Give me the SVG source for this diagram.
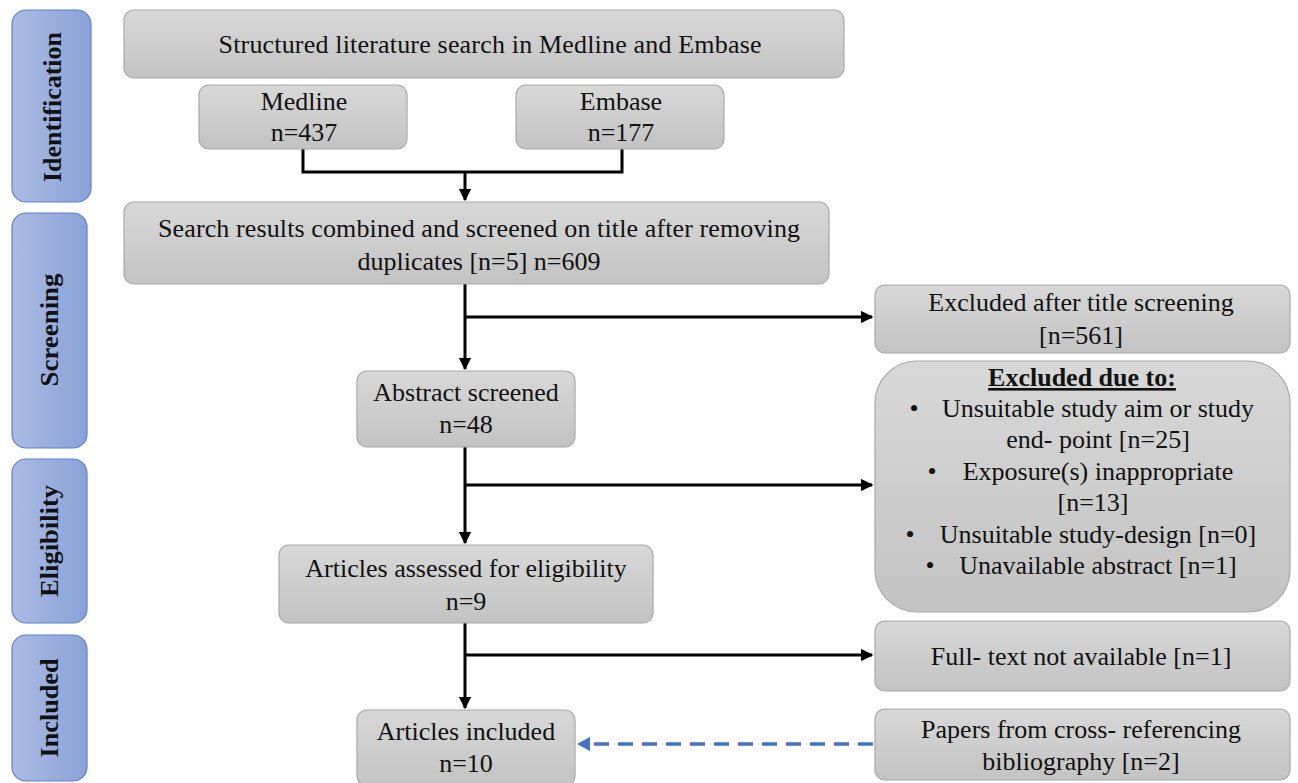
<svg xmlns="http://www.w3.org/2000/svg" width="1298" height="783" viewBox="0 0 1298 783">
<defs>
<linearGradient id="gray" x1="0" y1="0" x2="0" y2="1">
<stop offset="0" stop-color="#d8d8d8"/><stop offset="1" stop-color="#c3c3c3"/>
</linearGradient>
<linearGradient id="blue" x1="0" y1="0" x2="1" y2="0">
<stop offset="0" stop-color="#abbbe3"/><stop offset="1" stop-color="#8aa2d8"/>
</linearGradient>
<marker id="ah" viewBox="0 0 10 10" refX="9" refY="5" markerWidth="4.2" markerHeight="4.2" orient="auto" markerUnits="strokeWidth">
<path d="M0,0 L10,5 L0,10 z" fill="#000"/>
</marker>
</defs>
<style>
.box{fill:url(#gray);stroke:#a8a8a8;stroke-width:1.2}
.side{fill:url(#blue);stroke:#5b80cf;stroke-width:1.2}
.t{font-family:'Liberation Serif','Times New Roman','DejaVu Serif',serif;font-size:26px;fill:#111;text-anchor:middle}
.lab{font-family:'Liberation Serif','Times New Roman',serif;font-weight:bold;font-size:26px;fill:#111;text-anchor:middle}
.ln{fill:none;stroke:#000;stroke-width:3}
</style>
<rect width="1298" height="783" fill="#fff"/>

<g id="side-identification"><rect class="side" x="12" y="10" width="79" height="192" rx="14"/><text class="lab" transform="translate(61,107) rotate(-90)" textLength="150" lengthAdjust="spacingAndGlyphs">Identification</text></g>
<g id="side-screening"><rect class="side" x="12" y="213" width="75" height="235" rx="14"/><text class="lab" transform="translate(58,330) rotate(-90)" textLength="113" lengthAdjust="spacingAndGlyphs">Screening</text></g>
<g id="side-eligibility"><rect class="side" x="12" y="459" width="75" height="164" rx="14"/><text class="lab" transform="translate(58,541) rotate(-90)" textLength="112" lengthAdjust="spacingAndGlyphs">Eligibility</text></g>
<g id="side-included"><rect class="side" x="12" y="635" width="75" height="146" rx="14"/><text class="lab" transform="translate(58,708) rotate(-90)" textLength="99" lengthAdjust="spacingAndGlyphs">Included</text></g>

<g id="connectors">
<path class="ln" d="M303,149 V172 H622 V149"/>
<path class="ln" d="M465,172 V200" marker-end="url(#ah)"/>
<path class="ln" d="M465,284 V369" marker-end="url(#ah)"/>
<path class="ln" d="M465,317 H872" marker-end="url(#ah)"/>
<path class="ln" d="M465,447 V543" marker-end="url(#ah)"/>
<path class="ln" d="M465,485 H872" marker-end="url(#ah)"/>
<path class="ln" d="M465,623 V708" marker-end="url(#ah)"/>
<path class="ln" d="M465,655 H872" marker-end="url(#ah)"/>
<path d="M873,744 H588" fill="none" stroke="#4472c4" stroke-width="3.5" stroke-dasharray="15,9"/>
<path d="M577,744 L590,737 L590,751 z" fill="#4472c4"/>
</g>

<g id="n-search"><rect class="box" x="124" y="10" width="720" height="68" rx="10"/><text class="t" x="490" y="53" textLength="543">Structured literature search in Medline and Embase</text></g>
<g id="n-medline"><rect class="box" x="199" y="85" width="208" height="64" rx="10"/><text class="t" x="304" y="110">Medline</text><text class="t" x="304" y="141">n=437</text></g>
<g id="n-embase"><rect class="box" x="516" y="85" width="208" height="64" rx="10"/><text class="t" x="621" y="110">Embase</text><text class="t" x="621" y="141">n=177</text></g>
<g id="n-combined"><rect class="box" x="124" y="202" width="705" height="82" rx="10"/><text class="t" x="479" y="237" textLength="642">Search results combined and screened on title after removing</text><text class="t" x="479" y="270">duplicates [n=5] n=609</text></g>
<g id="n-excl-title"><rect class="box" x="875" y="285" width="415" height="68" rx="10"/><text class="t" x="1081" y="311">Excluded after title screening</text><text class="t" x="1081" y="344">[n=561]</text></g>
<g id="n-abstract"><rect class="box" x="357" y="371" width="218" height="76" rx="10"/><text class="t" x="466" y="401">Abstract screened</text><text class="t" x="466" y="433">n=48</text></g>
<g id="n-excl-due"><rect class="box" x="875" y="361" width="415" height="251" rx="42"/>
<text class="t" x="1082" y="386" font-weight="bold" text-decoration="underline">Excluded due to:</text>
<text class="t" x="914" y="417">•</text><text class="t" x="1098" y="417">Unsuitable study aim or study</text>
<text class="t" x="1098" y="448">end- point [n=25]</text>
<text class="t" x="932" y="480">•</text><text class="t" x="1098" y="480">Exposure(s) inappropriate</text>
<text class="t" x="1093" y="511">[n=13]</text>
<text class="t" x="910" y="543">•</text><text class="t" x="1098" y="543">Unsuitable study-design [n=0]</text>
<text class="t" x="930" y="574">•</text><text class="t" x="1098" y="574">Unavailable abstract [n=1]</text>
</g>
<g id="n-assessed"><rect class="box" x="279" y="545" width="374" height="78" rx="10"/><text class="t" x="466" y="577">Articles assessed for eligibility</text><text class="t" x="466" y="610">n=9</text></g>
<g id="n-fulltext"><rect class="box" x="875" y="621" width="415" height="70" rx="10"/><text class="t" x="1081" y="665">Full- text not available [n=1]</text></g>
<g id="n-included"><rect class="box" x="357" y="710" width="218" height="76" rx="10"/><text class="t" x="466" y="740">Articles included</text><text class="t" x="466" y="772">n=10</text></g>
<g id="n-papers"><rect class="box" x="875" y="709" width="415" height="71" rx="10"/><text class="t" x="1081" y="738">Papers from cross- referencing</text><text class="t" x="1081" y="770">bibliography  [n=2]</text></g>
</svg>
